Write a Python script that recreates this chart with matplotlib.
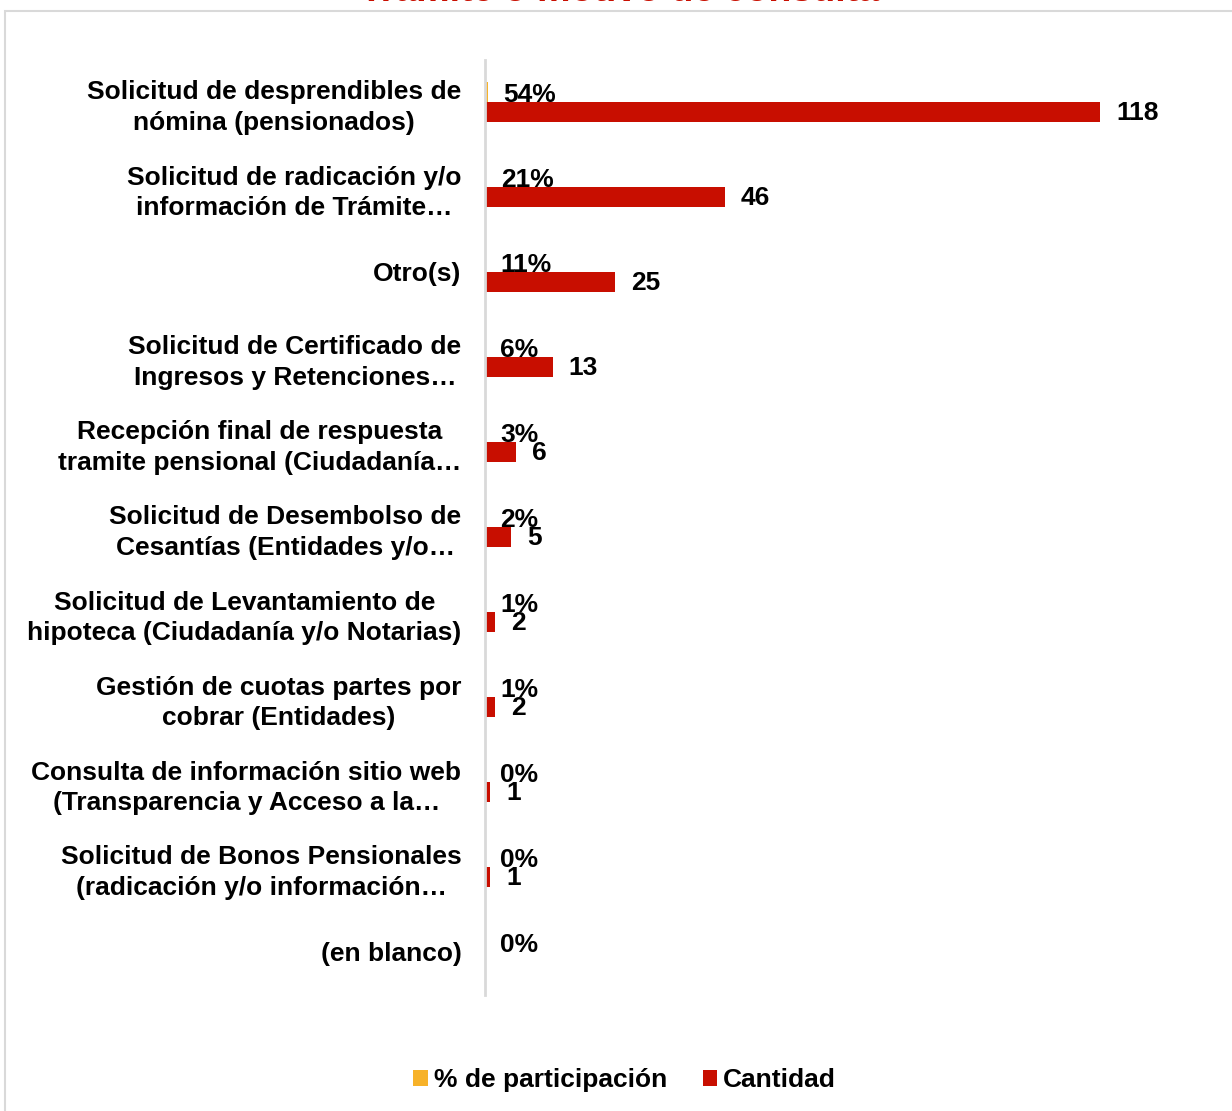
import numpy as np
import matplotlib.pyplot as plt
from matplotlib.patches import Rectangle

# data ##################################################################
categorias = [
    "Solicitud de desprendibles de\nnómina (pensionados)",
    "Solicitud de radicación y/o\ninformación de Trámite…",
    "Otro(s)",
    "Solicitud de Certificado de\nIngresos y Retenciones…",
    "Recepción final de respuesta\ntramite pensional (Ciudadanía…",
    "Solicitud de Desembolso de\nCesantías (Entidades y/o…",
    "Solicitud de Levantamiento de\nhipoteca (Ciudadanía y/o Notarias)",
    "Gestión de cuotas partes por\ncobrar (Entidades)",
    "Consulta de información sitio web\n(Transparencia y Acceso a la…",
    "Solicitud de Bonos Pensionales\n(radicación y/o información…",
    "(en blanco)",
]
participacion = [0.54, 0.21, 0.11, 0.06, 0.03, 0.02, 0.01, 0.01, 0.0, 0.0, 0.0]
cantidad = [118, 46, 25, 13, 6, 5, 2, 2, 1, 1, None]

titulo = "Trámite o motivo de consulta"
serie_pct = "% de participación"
serie_cant = "Cantidad"

# style ##################################################################
rojo = "#C80E00"
naranja = "#F7B229"
gris = "#D9D9D9"
plt.rcParams['font.family'] = ['Liberation Sans', 'DejaVu Sans']
plt.rcParams['font.weight'] = 'bold'
fs = 19

fig = plt.figure(figsize=(12.32, 11.11), dpi=100)
ax = fig.add_axes([485/1232, 116.5/1111, 730/1232, 935/1111])

y = np.arange(len(categorias))
h = 0.235
cant_vals = [c if c is not None else 0 for c in cantidad]

ax.barh(y - h/2, participacion, height=h, color=naranja, label=serie_pct)
ax.barh(y + h/2, cant_vals, height=h, color=rojo, label=serie_cant)

for yi, p in zip(y, participacion):
    ax.annotate("%d%%" % round(p*100), (p, yi - h/2 + 0.04), xytext=(15, 0),
                textcoords='offset pixels', ha='left', va='center',
                fontsize=fs, fontweight='bold')
for yi, c in zip(y, cantidad):
    if c is None:
        continue
    ax.annotate("%d" % c, (c, yi + h/2 + 0.01), xytext=(16, 0),
                textcoords='offset pixels', ha='left', va='center',
                fontsize=fs, fontweight='bold')

ax.set_xlim(0, 140)
ax.set_ylim(len(categorias) - 0.5, -0.5)
ax.set_yticks(y)
ax.set_yticklabels(categorias, fontsize=fs, fontweight='bold',
                   multialignment='center', linespacing=1.36)
ax.tick_params(axis='y', length=0, pad=17)
ax.set_xticks([])
for s in ['top', 'right', 'bottom']:
    ax.spines[s].set_visible(False)
ax.spines['left'].set_color(gris)
ax.spines['left'].set_linewidth(2)

# chart border (cut on the right and bottom)
fig.patches.append(Rectangle((5/1232, -0.1), 1.2, 1.1 - 11/1111,
                             transform=fig.transFigure, fill=False,
                             edgecolor=gris, linewidth=1.5))

fig.text(0.503, 1 - 1/1111, titulo, ha='center', va='baseline',
         color=rojo, fontsize=27, fontweight='bold')

leg = fig.legend(loc='center', bbox_to_anchor=(0.507, 1 - 1080/1111), ncol=2,
                 frameon=False, fontsize=fs, handlelength=0.55, handleheight=0.55,
                 handletextpad=0.22, columnspacing=1.35)
for t in leg.get_texts():
    t.set_fontweight('bold')

fig.savefig("out.png", dpi=100)
